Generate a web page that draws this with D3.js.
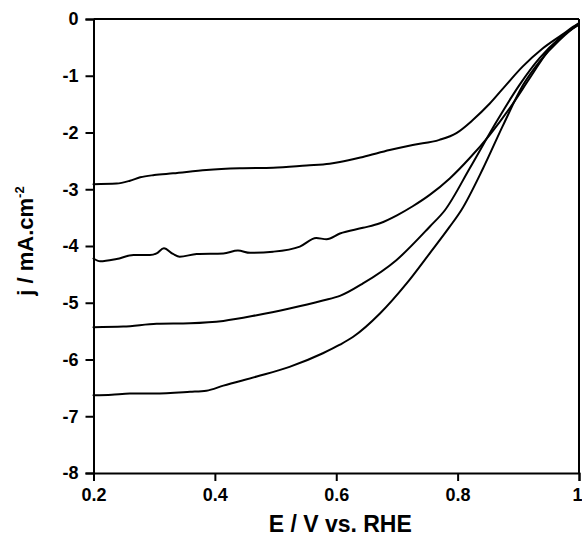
<!DOCTYPE html>
<html>
<head>
<meta charset="utf-8">
<script src="https://cdn.jsdelivr.net/npm/d3@7/dist/d3.min.js"></script>
<style>
  html, body { margin: 0; padding: 0; background: #fff; }
  svg { display: block; }
  text { font-family: "Liberation Sans", Arial, Helvetica, sans-serif; font-weight: bold; fill: #000; }
</style>
</head>
<body>
<svg id="chart" width="582" height="538"></svg>
<script>
// ---- data ----
const xTicks = [0.2, 0.4, 0.6, 0.8, 1.0];
const xTickLabels = ["0.2", "0.4", "0.6", "0.8", "1"];
const yTicks = [0, -1, -2, -3, -4, -5, -6, -7, -8];
const yTickLabels = ["0", "-1", "-2", "-3", "-4", "-5", "-6", "-7", "-8"];
const xTitle = "E / V vs. RHE";

const e1 = [0.200, 0.238, 0.260, 0.277, 0.300, 0.331, 0.386, 0.441, 0.496, 0.551, 0.589, 0.606, 0.644, 0.688, 0.726, 0.770, 0.798, 0.825, 0.853, 0.880, 0.907, 0.940, 0.973, 0.990, 1.000];
const j1 = [-2.91, -2.90, -2.85, -2.79, -2.75, -2.72, -2.66, -2.63, -2.62, -2.58, -2.55, -2.52, -2.43, -2.31, -2.22, -2.13, -2.01, -1.78, -1.49, -1.16, -0.84, -0.52, -0.27, -0.14, -0.07];

const e2 = [0.200, 0.211, 0.238, 0.266, 0.293, 0.304, 0.316, 0.331, 0.342, 0.370, 0.414, 0.438, 0.458, 0.496, 0.540, 0.567, 0.584, 0.606, 0.644, 0.672, 0.700, 0.726, 0.754, 0.787, 0.820, 0.853, 0.886, 0.919, 0.952, 0.984, 1.000];
const j2 = [-4.22, -4.27, -4.23, -4.16, -4.16, -4.13, -4.04, -4.14, -4.19, -4.14, -4.13, -4.08, -4.12, -4.10, -4.01, -3.86, -3.88, -3.78, -3.68, -3.60, -3.46, -3.30, -3.10, -2.81, -2.45, -2.04, -1.57, -1.04, -0.52, -0.20, -0.08];

const e3 = [0.200, 0.249, 0.304, 0.359, 0.414, 0.469, 0.523, 0.578, 0.606, 0.644, 0.699, 0.754, 0.779, 0.820, 0.864, 0.902, 0.935, 0.968, 0.995, 1.000];
const j3 = [-5.43, -5.42, -5.37, -5.36, -5.32, -5.22, -5.10, -4.96, -4.88, -4.66, -4.25, -3.66, -3.37, -2.63, -1.81, -1.16, -0.69, -0.34, -0.13, -0.10];

const e4 = [0.200, 0.230, 0.260, 0.300, 0.359, 0.386, 0.414, 0.469, 0.523, 0.578, 0.606, 0.628, 0.672, 0.716, 0.754, 0.787, 0.806, 0.842, 0.875, 0.908, 0.935, 0.968, 0.995, 1.000];
const j4 = [-6.63, -6.62, -6.60, -6.60, -6.57, -6.55, -6.46, -6.30, -6.13, -5.89, -5.74, -5.60, -5.19, -4.66, -4.13, -3.66, -3.37, -2.63, -1.87, -1.16, -0.75, -0.37, -0.13, -0.10];

const seriesE = [e1, e2, e3, e4];
const seriesJ = [j1, j2, j3, j4];

// ---- layout ----
const svg = d3.select("#chart");
const mLeft = 93.5, mRight = 579, mTop = 19, mBottom = 473;

const x = d3.scaleLinear().domain([0.2, 1.0]).range([mLeft, mRight]);
const y = d3.scaleLinear().domain([-8, 0]).range([mBottom, mTop]);

// frame (top & right)
svg.append("line").attr("x1", mLeft).attr("x2", mRight).attr("y1", mTop).attr("y2", mTop)
  .attr("stroke", "#000").attr("stroke-width", 2);
svg.append("line").attr("x1", mRight).attr("x2", mRight).attr("y1", mTop).attr("y2", mBottom)
  .attr("stroke", "#000").attr("stroke-width", 2);

// curves
const line = d3.line().x(d => x(d[0])).y(d => y(d[1])).curve(d3.curveMonotoneX);
seriesE.forEach((es, i) => {
  const pts = es.map((e, k) => [e, seriesJ[i][k]]);
  svg.append("path").datum(pts).attr("d", line)
    .attr("fill", "none").attr("stroke", "#000").attr("stroke-width", 2)
    .attr("stroke-linejoin", "round").attr("stroke-linecap", "round");
});

// x axis
const xAxis = d3.axisBottom(x).tickValues(xTicks)
  .tickFormat((d, i) => xTickLabels[i]).tickSize(8).tickPadding(7);
const gx = svg.append("g").attr("transform", `translate(0,${mBottom})`).call(xAxis);
gx.select(".domain").attr("stroke", "#000").attr("stroke-width", 2);
gx.selectAll(".tick line").attr("stroke", "#000").attr("stroke-width", 2);
gx.selectAll(".tick text").style("font-size", "18px").style("font-family", "Liberation Sans, Arial, sans-serif").style("font-weight", "bold").attr("fill", "#000");
// keep the last label ("1") inside the picture, flush with the right edge
gx.selectAll(".tick text").filter((d, i) => i === xTicks.length - 1)
  .attr("text-anchor", "end").attr("x", 3);

// y axis
const yAxis = d3.axisLeft(y).tickValues(yTicks)
  .tickFormat((d, i) => yTickLabels[i]).tickSize(8).tickPadding(7);
const gy = svg.append("g").attr("transform", `translate(${mLeft},0)`).call(yAxis);
gy.select(".domain").attr("stroke", "#000").attr("stroke-width", 2);
gy.selectAll(".tick line").attr("stroke", "#000").attr("stroke-width", 2);
gy.selectAll(".tick text").style("font-size", "18px").style("font-family", "Liberation Sans, Arial, sans-serif").style("font-weight", "bold").attr("fill", "#000");

// titles
svg.append("text").attr("x", (mLeft + mRight) / 2 + 4).attr("y", 532)
  .attr("text-anchor", "middle").style("font-size", "23px").text(xTitle);

const yt = svg.append("text").attr("transform", `translate(33,${(mTop + mBottom) / 2 - 5}) rotate(-90)`)
  .attr("text-anchor", "middle").style("font-size", "22px");
yt.append("tspan").text("j / mA.cm");
yt.append("tspan").attr("dy", "-9").style("font-size", "13px").text("-2");
</script>
</body>
</html>
